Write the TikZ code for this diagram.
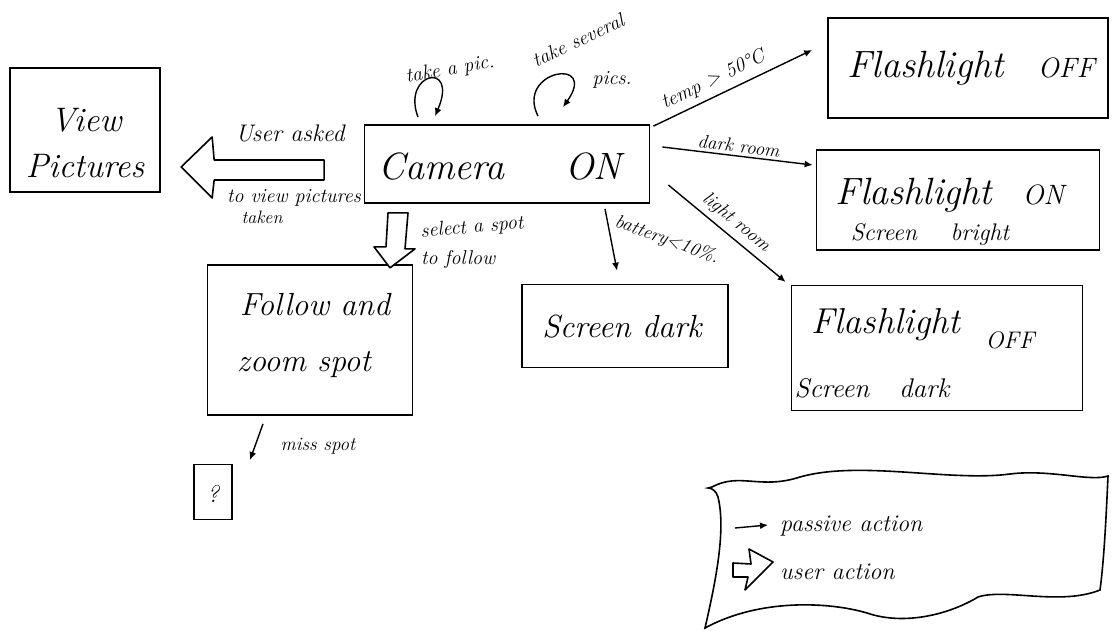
\documentclass[tikz,border=0pt]{standalone}
\usetikzlibrary{calc,arrows.meta}
\newcommand{\hsz}[1]{\fontsize{#1}{#1}\selectfont}
\begin{document}
\begin{tikzpicture}[x=1pt,y=-1pt,
  box/.style={draw,line width=1.7pt,inner sep=0pt},
  txt/.style={inner sep=0pt,font=\itshape},
  pa/.style={line width=1.4pt,-{Latex[length=8pt,width=7pt]}},
  hollow/.style={draw,line width=1.6pt,line join=round,fill=white}]
\fill[white] (0,0) rectangle (1113,631);
\useasboundingbox (0,0) rectangle (1113,631);

% states
\node[box,minimum width=150,minimum height=124] (view) at (85,130) {};
\node[box,minimum width=285,minimum height=78] (cam) at (507,164) {};
\node[box,minimum width=280,minimum height=100] (foff) at (968,68) {};
\node[box,minimum width=283,minimum height=100] (fon) at (958,200) {};
\node[box,minimum width=291,minimum height=125] (fsd) at (937,348) {};
\node[box,minimum width=206,minimum height=83] (sdark) at (625,326) {};
\node[box,minimum width=205,minimum height=150] (follow) at (310,340) {};
\node[box,minimum width=38,minimum height=55] (q) at (213,492) {};

% state texts
\node[txt,font=\hsz{34}\itshape] (viewA) at (86,120) {View};
\node[txt,font=\hsz{34}\itshape] (viewB) at (85,166) {Pictures};
\node[txt,font=\hsz{38}\itshape] (camT) at (500,167) {Camera\hspace{1.6em}ON};
\node[txt,font=\hsz{38}\itshape] (foffT) at (971,68) {Flashlight\hspace{0.9em}{\hsz{28}OFF}};
\node[txt,font=\hsz{38}\itshape] (fonA) at (950,195) {Flashlight\hspace{0.8em}{\hsz{28}ON}};
\node[txt,font=\hsz{24}\itshape] (fonB) at (930,234) {Screen\hspace{1.4em}bright};
\node[txt,font=\hsz{36}\itshape] (fsdA) at (886,325) {Flashlight};
\node[txt,font=\hsz{24}\itshape] (fsdB) at (1010,340) {OFF};
\node[txt,font=\hsz{27}\itshape] (fsdC) at (872,388) {Screen\hspace{1.1em}dark};
\node[txt,font=\hsz{32}\itshape] (sdarkT) at (622,327) {Screen dark};
\node[txt,font=\hsz{32}\itshape] (followA) at (315,305) {Follow and};
\node[txt,font=\hsz{32}\itshape] (followB) at (304,365) {zoom spot};
\node[txt,font=\hsz{24}\itshape] (qT) at (213,494) {?};

% passive transitions
\draw[pa] ($(cam.north east)+(3,2)$) -- node[txt,font=\hsz{20}\itshape,sloped,above=6pt,pos=0.42] (tempL) {temp > 50\textdegree C} ($(foff.west)+(-15,-18)$);
\draw[pa] ($(cam.east)+(12,-17)$) -- node[txt,font=\hsz{19}\itshape,sloped,above=3pt] (darkL) {dark room} ($(fon.west)+(-3,-35)$);
\draw[pa] ($(cam.east)+(18,21)$) -- node[txt,font=\hsz{19}\itshape,sloped,above=5pt,pos=0.5] (lightL) {light room} ($(fsd.west)+(-5,-66)$);
\draw[pa] ($(cam.south)+(98,5)$) -- ($(sdark.north)+(-8,-13)$);
\node[txt,font=\hsz{19}\itshape,rotate=-20] (battL) at (667,240) {battery<10\%.};
\coordinate (missEnd) at (250,460);
\draw[pa] ($(follow.south)+(-47,8)$) -- (missEnd);
\node[txt,font=\hsz{19}\itshape] (missL) at (318,446) {miss spot};

% self loops on the camera state
\draw[pa] ($(cam.north)+(-89,-7)$) .. controls ($(cam.north)+(-106,-52)$) and ($(cam.north)+(-48,-64)$) .. ($(cam.north)+(-72,-8)$);
\node[txt,font=\hsz{20}\itshape,rotate=10] (picL) at (450,70) {take a pic.};
\draw[pa] ($(cam.north)+(31,-8)$) .. controls ($(cam.north)+(8,-54)$) and ($(cam.north)+(92,-68)$) .. ($(cam.north)+(56,-17)$);
\node[txt,font=\hsz{20}\itshape,rotate=25] (sevL) at (578,40) {take several};
\node[txt,font=\hsz{20}\itshape] (picsL) at (612,80) {pics.};

% user actions (hollow arrows)
\draw[hollow,shift={(cam.west)}] (-39.5,-4) -- (-149.5,-4) -- (-151.5,-27) -- (-182.5,3) -- (-151.5,34) -- (-149.5,16) -- (-39.5,16) -- cycle;
\node[txt,font=\hsz{24}\itshape] (askL) at (290,133) {User asked};
\node[txt,font=\hsz{20}\itshape] (askL2) at (294,198) {to view pictures};
\node[txt,font=\hsz{18}\itshape] (askL3) at (262,217) {taken};
\draw[hollow,shift={(cam.south)}] (-119,9) -- (-99,9) -- (-102,45) -- (-92,45) -- (-117,64) -- (-133,43) -- (-121,43) -- cycle;
\node[txt,font=\hsz{20}\itshape,rotate=5] (selL) at (472,228) {select a spot};
\node[txt,font=\hsz{20}\itshape] (selL2) at (458,259) {to follow};

% legend
\draw[line width=1.6pt] (712,487) .. controls (740,472) and (760,490) .. (800,477)
  .. controls (860,460) and (950,482) .. (1010,474)
  .. controls (1050,469) and (1090,482) .. (1108,476)
  .. controls (1106,520) and (1104,560) .. (1100,590)
  .. controls (1060,606) and (1005,588) .. (978,597)
  .. controls (950,614) and (905,626) .. (867,613)
  .. controls (830,602) and (760,598) .. (705,628)
  .. controls (716,580) and (726,530) .. (718,497)
  .. controls (714,484) and (702,490) .. (712,487);
\coordinate (lgA) at (735,528);
\coordinate (lgB) at (768,525);
\draw[pa] (lgA) -- (lgB);
\node[txt,font=\hsz{24}\itshape,anchor=west] (lgT1) at (780,526) {passive action};
\draw[hollow] (733,563) -- (751,564) -- (749,549) -- (773,562) -- (745,590) -- (748,577) -- (733,577) -- cycle;
\node[txt,font=\hsz{24}\itshape,anchor=west] (lgT2) at (780,572) {user action};
\end{tikzpicture}
\end{document}
